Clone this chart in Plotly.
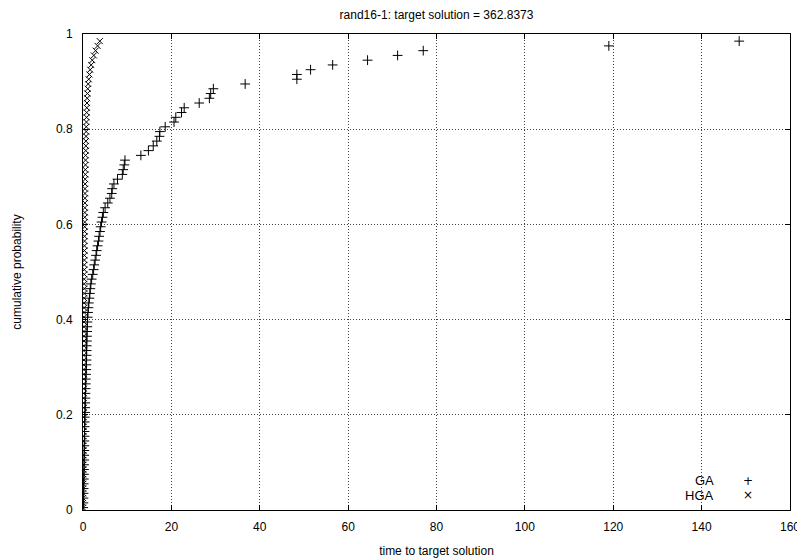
import plotly.graph_objects as go

title_text = "rand16-1: target solution = 362.8373"
x_title = "time to target solution"
y_title = "cumulative probability"

n_runs = 100

ga_times = [
    0.05, 0.08, 0.10, 0.12, 0.14, 0.16, 0.18, 0.20, 0.21, 0.23,
    0.25, 0.26, 0.28, 0.29, 0.31, 0.33, 0.34, 0.36, 0.38, 0.40,
    0.45, 0.48, 0.50, 0.53, 0.55, 0.58, 0.61, 0.64, 0.68, 0.72,
    0.76, 0.78, 0.80, 0.82, 0.84, 0.86, 0.88, 0.92, 0.96, 1.00,
    1.05, 1.12, 1.22, 1.32, 1.45, 1.55, 1.65, 1.78, 1.95, 2.20,
    2.40, 2.55, 2.75, 2.95, 3.10, 3.30, 3.50, 3.65, 3.85, 4.00,
    4.20, 4.40, 4.60, 5.00, 5.60, 6.10, 6.50, 6.60, 7.00, 7.80,
    8.90, 9.10, 9.35, 9.50, 13.1, 14.8, 15.9, 16.7, 17.3, 17.4,
    18.6, 20.6, 21.0, 22.3, 22.9, 26.3, 28.6, 28.9, 29.5, 36.7,
    48.4, 48.4, 51.5, 56.5, 64.4, 71.2, 77.0, 119.0, 148.5,
]

hga_times = [
    0.00, 0.01, 0.02, 0.03, 0.03, 0.04, 0.05, 0.05, 0.06, 0.07,
    0.07, 0.08, 0.09, 0.09, 0.10, 0.10, 0.11, 0.12, 0.12, 0.13,
    0.13, 0.14, 0.14, 0.15, 0.15, 0.16, 0.16, 0.17, 0.17, 0.18,
    0.18, 0.19, 0.19, 0.20, 0.20, 0.21, 0.22, 0.22, 0.23, 0.24,
    0.24, 0.25, 0.25, 0.26, 0.26, 0.27, 0.28, 0.28, 0.29, 0.30,
    0.30, 0.31, 0.32, 0.32, 0.33, 0.34, 0.35, 0.36, 0.37, 0.38,
    0.39, 0.40, 0.41, 0.42, 0.43, 0.44, 0.45, 0.46, 0.48, 0.50,
    0.52, 0.54, 0.56, 0.58, 0.60, 0.62, 0.64, 0.66, 0.69, 0.72,
    0.75, 0.78, 0.81, 0.84, 0.87, 0.90, 0.95, 1.00, 1.08, 1.18,
    1.30, 1.45, 1.62, 1.85, 2.10, 2.45, 2.85, 3.30, 3.80,
]

x_ticks = [0, 20, 40, 60, 80, 100, 120, 140, 160]
y_ticks = [0, 0.2, 0.4, 0.6, 0.8, 1]
y_tick_labels = ["0", "0.2", "0.4", "0.6", "0.8", "1"]


def probs(times):
    return [(i + 0.5) / n_runs for i in range(len(times))]


FONT = "Liberation Sans, Arial, Helvetica, sans-serif"

fig = go.Figure()
fig.add_trace(go.Scatter(
    x=ga_times, y=probs(ga_times), mode="markers", name="GA",
    marker=dict(symbol="cross-thin", size=7, color="black",
                line=dict(color="black", width=1)),
    cliponaxis=True,
))
fig.add_trace(go.Scatter(
    x=hga_times, y=probs(hga_times), mode="markers", name="HGA",
    marker=dict(symbol="x-thin", size=6, color="black",
                line=dict(color="black", width=1)),
    cliponaxis=True,
))

axis_common = dict(
    showline=True, linecolor="black", linewidth=1, mirror="ticks",
    ticks="inside", ticklen=5, tickwidth=1, tickcolor="black",
    showgrid=True, gridcolor="#444444", griddash="1px,2px", gridwidth=1,
    zeroline=False, automargin=False,
    tickfont=dict(family=FONT, size=12, color="black"),
)

fig.update_xaxes(
    range=[0, 160], tickvals=x_ticks, ticklabelstandoff=6,
    title=dict(text=x_title, font=dict(family=FONT, size=12, color="black"), standoff=13),
    **axis_common,
)
fig.update_yaxes(
    range=[0, 1], tickvals=y_ticks, ticktext=y_tick_labels, ticklabelstandoff=7,
    title=dict(text=y_title, font=dict(family=FONT, size=12, color="black"), standoff=31),
    **axis_common,
)

# gnuplot-style key: text right-aligned, symbol to its right
key_font = dict(family=FONT, size=13, color="black")
fig.add_annotation(xref="paper", yref="paper", x=0.896, y=0.061, text="GA",
                   showarrow=False, xanchor="right", yanchor="middle", font=key_font)
fig.add_annotation(xref="paper", yref="paper", x=0.896, y=0.031, text="HGA",
                   showarrow=False, xanchor="right", yanchor="middle", font=key_font)
fig.add_annotation(xref="paper", yref="paper", x=0.941, y=0.061, text="+",
                   showarrow=False, xanchor="center", yanchor="middle",
                   font=dict(family="DejaVu Sans", size=12, color="black"))
fig.add_annotation(xref="paper", yref="paper", x=0.941, y=0.031, text="×",
                   showarrow=False, xanchor="center", yanchor="middle",
                   font=dict(family="DejaVu Sans", size=12, color="black"))

# page body has an 8px margin; size the figure so the plot lands where the reference has it
fig.update_layout(
    width=797, height=552,
    margin=dict(l=75, r=15, t=26, b=50, autoexpand=False),
    paper_bgcolor="white", plot_bgcolor="white",
    showlegend=False,
    title=dict(text=title_text, x=428.5 / 797, xanchor="center",
               y=1 - 7 / 552, yref="container", yanchor="middle",
               font=dict(family=FONT, size=12, color="black"),
               automargin=False),
    font=dict(family=FONT, size=12, color="black"),
)

fig.write_html("out.html")
